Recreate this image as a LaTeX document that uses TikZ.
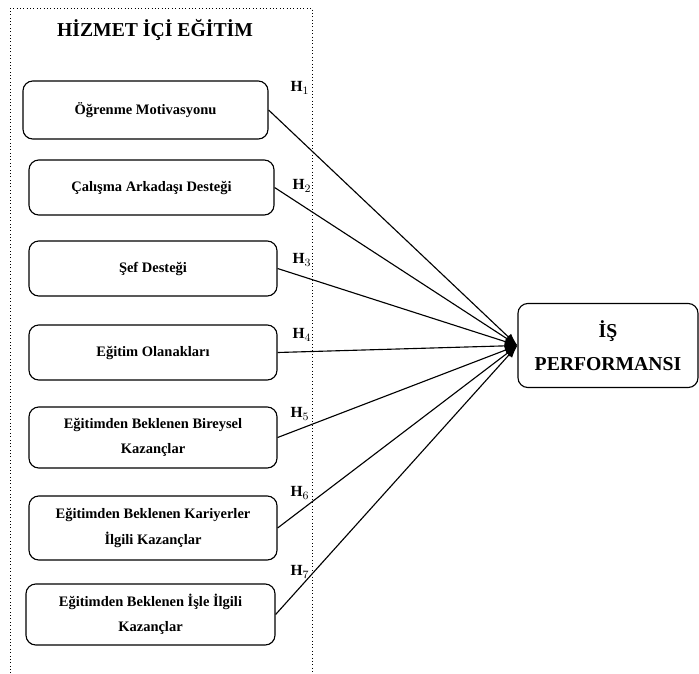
\documentclass[tikz,border=0pt]{standalone}
\usepackage{fontspec}
\setmainfont{Liberation Serif}
\usetikzlibrary{arrows.meta, positioning}

\begin{document}
\begin{tikzpicture}[
    x=0.025cm, y=-0.025cm,
    block/.style={rectangle, draw=black, thick, rounded corners=7pt, align=center, minimum width=6.2cm, minimum height=1.4cm, font=\fontsize{10.3}{18}\selectfont\bfseries},
    result/.style={rectangle, draw=black, thick, rounded corners=7pt, align=center, minimum width=4.5cm, minimum height=2.1cm, font=\fontsize{14}{23}\selectfont\bfseries},
    hyp/.style={font=\fontsize{11}{12}\selectfont\bfseries},
    arrow/.style={-{Latex[length=9pt,width=6pt]}, thick, draw=black}
]
    \useasboundingbox (0,0) rectangle (699,673);

    % frame of the left group
    \draw[dotted, thin] (10,673) -- (10,8) -- (312,8) -- (312,673);
    \node[font=\fontsize{14}{16}\selectfont\bfseries] (title) at (155,30) {HİZMET İÇİ EĞİTİM};

    \node[block, minimum width=6.125cm, minimum height=1.45cm] (motivasyon) at (145.5,110) {Öğrenme Motivasyonu};
    \node[block, minimum width=6.125cm, minimum height=1.375cm] (arkadas) at (151.5,187.5) {Çalışma Arkadaşı Desteği};
    \node[block, minimum height=1.375cm] (sef) at (153,268.5) {Şef Desteği};
    \node[block, minimum height=1.375cm] (olanak) at (153,352.5) {Eğitim Olanakları};
    \node[block, minimum height=1.525cm] (bireysel) at (153,437.5) {Eğitimden Beklenen Bireysel\\Kazançlar};
    \node[block, minimum height=1.6cm] (kariyer) at (153,528) {Eğitimden Beklenen Kariyerler\\İlgili Kazançlar};
    \node[block, minimum width=6.225cm, minimum height=1.525cm] (isle) at (150.5,614.5) {Eğitimden Beklenen İşle İlgili\\Kazançlar};

    \node[result] (performans) at (608,345.5) {İŞ\\PERFORMANSI};

    \node[hyp] (h1) at (300,88) {H$_1$};
    \node[hyp] (h2) at (302,186) {H$_2$};
    \node[hyp] (h3) at (302,260) {H$_3$};
    \node[hyp] (h4) at (302,335) {H$_4$};
    \node[hyp] (h5) at (300,414) {H$_5$};
    \node[hyp] (h6) at (300,493) {H$_6$};
    \node[hyp] (h7) at (300,572) {H$_7$};

    \draw[arrow] (motivasyon.east) -- (performans.west);
    \draw[arrow] (arkadas.east) -- (performans.west);
    \draw[arrow] (sef.east) -- (performans.west);
    \draw[arrow] (olanak.east) -- (performans.west);
    \draw[arrow] (bireysel.east) -- (performans.west);
    \draw[arrow] (kariyer.east) -- (performans.west);
    \draw[arrow] (isle.east) -- (performans.west);
\end{tikzpicture}
\end{document}
